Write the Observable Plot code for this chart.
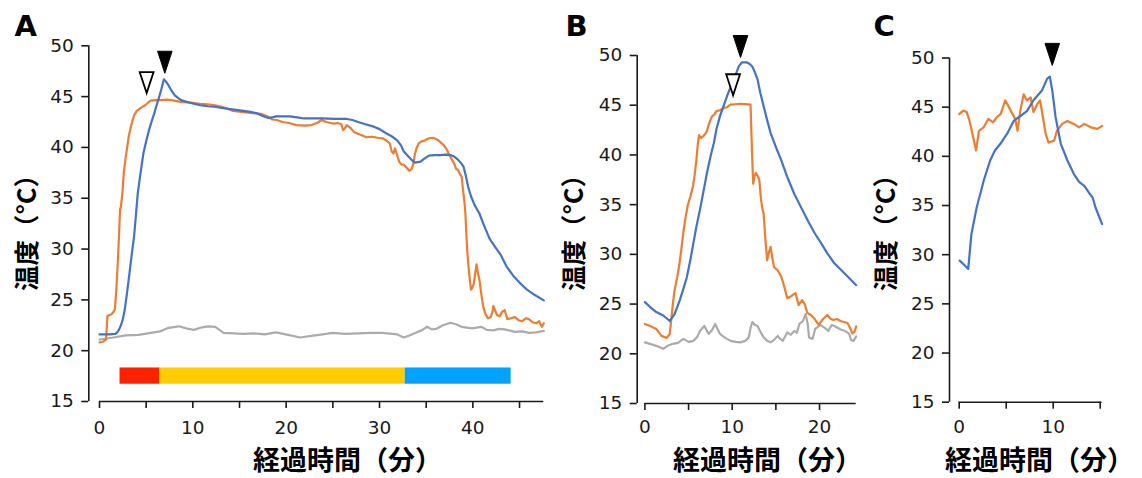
<!DOCTYPE html>
<html><head><meta charset="utf-8">
<script src="https://cdn.jsdelivr.net/npm/d3@7"></script>
<script src="https://cdn.jsdelivr.net/npm/@observablehq/plot@0.6"></script>
<style>
html,body{margin:0;padding:0;background:#fff;}
#chart{position:relative;width:1142px;height:478px;overflow:hidden;background:#fff;}
#chart svg{position:absolute;top:0;}
</style></head><body><div id="chart"></div>
<script>
// ---------- text ----------
const panelLetters = ["A", "B", "C"];
const yTitle = "温度（°C）";
const xTitle = "経過時間（分）";

// ---------- ticks / domains ----------
const yTicks = [15, 20, 25, 30, 35, 40, 45, 50];
const xTicksA = [0, 5, 10, 15, 20, 25, 30, 35, 40, 45];
const xTicksB = [0, 5, 10, 15, 20];
const xTicksC = [0, 5, 10, 15];
const xMaxA = 47.6, xMaxB = 24.2, xMaxC = 15.2;

// ---------- panel A series [minutes, °C] ----------
const aOrange = [[0,20.8],[0.4,20.9],[0.7,21.1],[0.85,23.4],[1.1,23.5],[1.3,23.6],[1.5,23.8],[1.65,24.1],[1.8,26.0],[1.95,28.5],[2.1,31.5],[2.2,33.9],[2.3,34.2],[2.45,35.5],[2.6,37.5],[2.8,39.0],[2.98,40.1],[3.15,41.2],[3.36,42.0],[3.55,42.7],[3.73,43.2],[4.0,43.6],[4.3,43.8],[4.6,44.0],[4.9,44.15],[5.2,44.4],[5.47,44.6],[6.0,44.65],[6.6,44.65],[7.2,44.7],[7.7,44.65],[8.3,44.55],[8.9,44.45],[9.8,44.4],[10.8,44.3],[11.6,44.25],[12.4,44.15],[13.1,44.0],[13.7,43.8],[14.3,43.6],[15.2,43.5],[16.2,43.4],[17.3,43.3],[17.9,43.1],[18.5,42.75],[19.0,42.7],[19.6,42.5],[20.3,42.4],[21.1,42.2],[22.0,42.15],[22.7,42.2],[23.3,42.4],[23.8,42.7],[24.3,42.5],[25.0,42.35],[25.5,42.4],[25.9,42.3],[26.1,41.7],[26.3,41.9],[26.5,42.2],[26.9,41.9],[27.3,41.5],[27.7,41.35],[28.1,41.2],[28.6,41.0],[29.2,41.05],[29.8,40.95],[30.3,40.9],[30.7,40.7],[31.1,40.4],[31.3,39.6],[31.5,39.4],[31.65,39.9],[31.8,39.5],[32.1,38.6],[32.4,38.3],[32.6,38.3],[32.9,38.0],[33.2,37.7],[33.45,37.9],[33.6,38.3],[33.8,39.4],[34.0,40.0],[34.2,40.4],[34.5,40.6],[34.9,40.7],[35.3,40.9],[35.7,40.95],[36.0,40.85],[36.3,40.7],[36.6,40.45],[36.9,40.2],[37.2,39.8],[37.4,39.4],[37.7,38.9],[38.0,38.4],[38.2,37.9],[38.4,37.8],[38.6,37.4],[38.8,37.1],[38.95,35.8],[39.1,34.6],[39.2,33.5],[39.3,31.5],[39.4,29.8],[39.5,28.6],[39.65,27.2],[39.8,26.0],[39.95,26.2],[40.1,26.6],[40.25,27.6],[40.4,28.5],[40.55,27.6],[40.7,27.0],[40.9,25.6],[41.1,24.4],[41.35,23.6],[41.6,23.2],[41.9,23.3],[42.1,23.8],[42.2,24.4],[42.4,23.9],[42.6,23.5],[42.9,23.4],[43.1,23.8],[43.4,24.0],[43.6,23.4],[43.7,23.1],[44.1,23.2],[44.5,23.3],[44.9,23.0],[45.3,22.9],[45.7,23.2],[46.0,23.1],[46.4,22.8],[46.8,22.7],[47.1,22.9],[47.4,22.35],[47.6,22.7]];
const aBlue = [[0,21.6],[1.0,21.6],[1.7,21.65],[1.9,21.8],[2.1,22.1],[2.3,22.5],[2.5,23.1],[2.7,24.0],[2.9,25.35],[3.1,26.8],[3.3,28.3],[3.5,29.8],[3.7,31.2],[3.9,33.3],[4.1,35.5],[4.4,37.5],[4.7,39.4],[5.0,40.6],[5.3,41.7],[5.6,42.6],[5.85,43.3],[6.1,44.1],[6.4,45.0],[6.65,45.8],[6.9,46.7],[7.1,46.5],[7.4,46.1],[7.7,45.6],[8.1,45.1],[8.5,44.8],[8.9,44.6],[9.5,44.45],[10.1,44.3],[10.8,44.15],[11.6,44.05],[12.3,44.0],[13.1,43.9],[14.2,43.75],[15.4,43.6],[16.2,43.5],[16.9,43.35],[17.5,43.1],[18.1,42.9],[18.5,42.95],[18.9,43.05],[19.6,43.05],[20.4,43.05],[21.2,42.95],[21.9,42.85],[22.8,42.85],[23.8,42.85],[25.2,42.8],[26.5,42.8],[27.1,42.7],[27.7,42.5],[28.4,42.3],[29.2,42.1],[30.0,41.8],[30.7,41.4],[31.3,41.1],[31.9,40.7],[32.3,40.2],[32.6,39.6],[33.0,39.2],[33.4,38.8],[33.8,38.5],[34.1,38.55],[34.4,38.6],[34.8,38.9],[35.3,39.2],[35.9,39.25],[36.5,39.25],[37.1,39.3],[37.6,39.25],[38.0,39.1],[38.4,38.8],[38.7,38.5],[39.0,38.1],[39.2,37.4],[39.5,36.1],[39.8,35.2],[40.2,34.3],[40.7,33.5],[41.2,32.3],[41.8,31.0],[42.4,30.2],[43.0,29.4],[43.6,28.3],[44.3,27.4],[45.0,26.7],[45.8,26.0],[46.6,25.5],[47.6,24.95]];
const aGray = [[0,21.1],[1.5,21.3],[2.8,21.5],[4.2,21.55],[5.5,21.75],[6.5,21.9],[7.4,22.25],[8.5,22.4],[9.3,22.2],[10.1,22.05],[11.0,22.3],[11.6,22.4],[12.4,22.35],[13.3,21.75],[14.4,21.7],[15.4,21.65],[16.5,21.7],[17.7,21.6],[18.9,21.8],[20.2,21.55],[21.5,21.3],[22.7,21.45],[23.9,21.6],[25.0,21.75],[26.3,21.65],[27.7,21.7],[29.0,21.75],[30.3,21.75],[31.9,21.6],[32.6,21.3],[33.2,21.5],[33.8,21.75],[34.5,22.0],[35.1,22.35],[35.6,22.1],[36.1,22.15],[36.8,22.5],[37.6,22.75],[38.2,22.6],[38.8,22.35],[39.9,22.2],[40.9,22.35],[41.5,22.05],[42.2,22.0],[42.8,22.15],[43.4,22.1],[44.5,21.85],[45.3,21.9],[46.0,21.75],[46.8,21.8],[47.6,21.95]];
const aPhaseStart = [2.2, 6.45, 32.75];
const aPhaseEnd = [6.45, 32.75, 44.1];
const aPhaseColor = ["#FF2200", "#FFCC00", "#00A2FF"];
const aPhaseLow = 16.7, aPhaseHigh = 18.3;
const aFilledMark = [[7.0, 47.3]];
const aOpenMark = [[5.05, 45.35]];

// ---------- panel B ----------
const bOrange = [[0,23.0],[0.6,22.8],[1.3,22.5],[1.9,21.8],[2.5,21.6],[2.85,22.0],[3.0,23.3],[3.2,25.0],[3.4,26.4],[3.7,27.7],[3.95,29.0],[4.2,30.7],[4.4,32.2],[4.6,33.4],[4.9,34.9],[5.2,35.8],[5.5,36.8],[5.7,38.0],[5.9,39.5],[6.05,41.0],[6.2,42.0],[6.45,41.7],[6.7,41.9],[6.9,42.1],[7.1,42.4],[7.3,43.0],[7.5,43.5],[7.7,43.9],[7.9,44.0],[8.2,44.4],[8.6,44.5],[9.0,44.7],[9.4,44.8],[9.8,45.05],[10.3,45.1],[10.9,45.15],[11.5,45.1],[12.1,45.05],[12.2,42.2],[12.3,39.5],[12.4,37.1],[12.55,37.8],[12.7,38.2],[12.9,37.9],[13.1,37.5],[13.3,35.5],[13.45,34.6],[13.6,34.1],[13.8,31.5],[14.0,29.4],[14.2,30.2],[14.4,30.75],[14.6,29.6],[14.8,28.7],[15.2,28.4],[15.6,27.8],[15.95,26.8],[16.3,25.6],[16.6,25.7],[16.9,25.9],[17.25,26.1],[17.6,24.9],[18.0,25.4],[18.3,25.0],[18.6,24.1],[19.0,23.9],[19.35,23.6],[19.9,22.9],[20.4,23.5],[20.9,23.9],[21.3,23.5],[21.6,23.4],[22.0,23.5],[22.4,23.3],[22.8,23.2],[23.2,23.1],[23.5,22.6],[23.75,22.05],[24.0,22.2],[24.2,22.75]];
const bBlue = [[0,25.2],[0.6,24.7],[1.3,24.2],[2.1,23.85],[2.85,23.3],[3.4,24.0],[4.0,25.4],[4.4,26.5],[4.8,27.7],[5.2,29.4],[5.55,31.1],[5.9,32.8],[6.3,34.45],[6.7,36.3],[7.1,38.15],[7.5,39.8],[7.9,41.2],[8.2,42.6],[8.6,43.9],[9.0,44.9],[9.4,45.9],[9.8,46.8],[10.2,47.6],[10.5,48.3],[10.75,48.9],[11.1,49.3],[11.7,49.3],[12.0,49.15],[12.3,48.9],[12.6,48.3],[12.9,47.6],[13.2,46.3],[13.6,44.9],[14.0,43.5],[14.4,42.2],[15.0,40.8],[15.6,39.5],[16.3,37.8],[17.1,36.1],[17.9,34.7],[18.65,33.4],[19.4,32.2],[20.2,31.1],[20.9,30.1],[21.7,29.1],[22.5,28.4],[23.3,27.7],[24.2,26.9]];
const bGray = [[0,21.15],[0.6,21.0],[1.3,20.8],[2.1,20.5],[2.6,20.8],[3.2,21.0],[3.8,21.1],[4.4,21.5],[5.0,21.2],[5.55,21.3],[6.0,21.7],[6.3,22.3],[6.8,22.8],[7.3,22.0],[7.7,22.4],[8.05,23.0],[8.6,22.0],[9.2,21.6],[9.8,21.3],[10.4,21.2],[10.9,21.15],[11.5,21.3],[11.9,21.65],[12.1,22.6],[12.3,23.2],[12.6,22.9],[12.9,22.8],[13.3,22.1],[13.6,21.65],[14.0,21.3],[14.4,21.15],[14.8,21.4],[15.2,21.8],[15.5,21.5],[15.8,21.3],[16.3,22.15],[16.7,21.9],[17.1,22.3],[17.4,22.1],[17.7,23.0],[18.1,23.3],[18.4,24.0],[18.65,23.0],[18.8,21.65],[19.2,21.5],[19.5,22.5],[19.8,22.7],[20.1,22.9],[20.6,22.6],[21.0,22.3],[21.4,22.9],[21.7,22.8],[22.3,22.5],[22.9,22.3],[23.4,22.0],[23.6,21.4],[23.9,21.3],[24.2,21.75]];
const bFilledMark = [[10.95, 49.8]];
const bOpenMark = [[10.1, 46.0]];

// ---------- panel C ----------
const cOrange = [[0,44.3],[0.43,44.65],[0.8,44.5],[1.1,43.6],[1.5,41.9],[1.8,40.6],[2.1,42.6],[2.6,42.95],[3.1,43.8],[3.6,43.45],[4.0,44.0],[4.4,44.3],[4.9,45.7],[5.4,44.8],[5.96,43.8],[6.2,42.6],[6.5,44.65],[6.86,46.3],[7.2,45.7],[7.6,46.0],[7.9,44.5],[8.3,45.3],[8.6,45.7],[8.9,44.0],[9.2,42.3],[9.5,41.4],[10.1,41.6],[10.4,42.6],[10.96,43.3],[11.5,43.6],[12.2,43.3],[12.75,42.95],[13.3,43.3],[14.0,42.95],[14.7,42.8],[15.2,43.1]];
const cBlue = [[0.05,29.4],[0.6,28.9],[0.96,28.55],[1.3,32.1],[1.86,34.8],[2.6,37.5],[3.3,39.6],[3.8,40.6],[4.4,41.3],[5.1,42.3],[5.8,43.6],[6.5,44.1],[7.2,44.6],[7.9,45.7],[8.8,46.7],[9.36,47.9],[9.64,48.1],[9.9,46.7],[10.25,44.0],[10.8,41.3],[11.5,39.6],[12.2,38.2],[12.75,37.4],[13.3,37.0],[13.8,36.3],[14.2,35.8],[14.5,34.8],[15.2,33.1]];
const cFilledMark = [[9.9, 49.25]];

// ---------- styling ----------
const ORANGE = "#ED7D31", BLUE = "#4472C4", GRAY = "#ABABAB", INK = "#1a1a1a";
const CJK = "'Noto Sans CJK JP', 'Noto Sans CJK SC', sans-serif";

const downTriangle = {
  draw(ctx, size) {
    const r = Math.sqrt(size / Math.PI);
    const h = 2 * r, w = 1.32 * r;
    ctx.moveTo(0, 0);
    ctx.lineTo(-w / 2, -h);
    ctx.lineTo(w / 2, -h);
    ctx.closePath();
  }
};

function series(data, color) {
  return Plot.line(data, {x: d => d[0], y: d => d[1], stroke: color, strokeWidth: 2.2, strokeLinejoin: "round"});
}

function panel(cfg) {
  const mL = cfg.axisX - cfg.left;
  const inset = cfg.zeroX - cfg.axisX;
  const mR = cfg.left + cfg.width - cfg.endX;
  const mT = cfg.topY;
  const mB = 478 - cfg.bottomY;
  const frameMidX = cfg.left + mL + (cfg.width - mL - mR) / 2;
  const frameMidY = (cfg.topY + cfg.bottomY) / 2;
  const marks = [
    ...(cfg.extra || []),
    ...cfg.lines,
    Plot.ruleX([0], {y1: yTicks[0], y2: yTicks[yTicks.length - 1], dx: -inset, stroke: INK, strokeWidth: 1.6}),
    Plot.ruleY([yTicks[0]], {x1: 0, x2: cfg.xMax, stroke: INK, strokeWidth: 1.6}),
    Plot.axisY({ticks: yTicks, tickSize: 7, tickPadding: 8, fontSize: 18.5, label: null, strokeWidth: 1.6}),
    Plot.axisX({ticks: cfg.xTicks, tickSize: 7, tickPadding: cfg.xPad, fontSize: 18.5, label: null, strokeWidth: 1.6,
      tickFormat: d => (d % 10 === 0 ? String(d) : "")}),
    Plot.text([cfg.letter], {frameAnchor: "top-left", text: d => d, textAnchor: "start", lineAnchor: "bottom",
      dx: cfg.letterX - (cfg.left + mL), dy: 35 - mT, fontSize: 29, fontWeight: "bold", fill: "#000"}),
    Plot.text([yTitle], {frameAnchor: "left", text: d => d, rotate: -90, textAnchor: "middle", lineAnchor: "middle",
      dx: cfg.yTitleX - cfg.axisX, dy: 226 - frameMidY, fontSize: 25.5, fontWeight: "bold", fontFamily: CJK, fill: "#000"}),
    Plot.text([xTitle], {frameAnchor: "bottom", text: d => d, textAnchor: "middle", lineAnchor: "middle",
      dx: cfg.xTitleX - frameMidX, dy: 461 - cfg.bottomY, fontSize: 27, fontWeight: "bold", fontFamily: CJK, fill: "#000"}),
  ];
  if (cfg.filled) marks.push(Plot.dot(cfg.filled, {x: d => d[0], y: d => d[1], symbol: downTriangle, r: 11, fill: "#000", stroke: "#000", strokeWidth: 1}));
  if (cfg.open) marks.push(Plot.dot(cfg.open, {x: d => d[0], y: d => d[1], symbol: downTriangle, r: 10.5, fill: "#fff", stroke: "#000", strokeWidth: 1.8}));
  const svg = Plot.plot({
    width: cfg.width, height: 478,
    marginLeft: mL, marginRight: mR, marginTop: mT, marginBottom: mB,
    x: {domain: [0, cfg.xMax], insetLeft: inset},
    y: {domain: [yTicks[0], yTicks[yTicks.length - 1]]},
    style: {fontFamily: "'DejaVu Sans', Verdana, sans-serif", color: INK, background: "transparent", overflow: "visible"},
    marks
  });
  svg.style.left = cfg.left + "px";
  document.getElementById("chart").appendChild(svg);
}

const aPhases = aPhaseStart.map((s, i) => ({s, e: aPhaseEnd[i], c: aPhaseColor[i]}));

panel({
  left: 0, width: 560, axisX: 88.3, zeroX: 99, endX: 543.3, topY: 45.3, bottomY: 401, xPad: 12,
  xMax: xMaxA, xTicks: xTicksA, letter: panelLetters[0], letterX: 14, yTitleX: 27, xTitleX: 347,
  extra: [Plot.rect(aPhases, {x1: "s", x2: "e", y1: aPhaseLow, y2: aPhaseHigh, fill: "c"})],
  lines: [series(aGray, GRAY), series(aOrange, ORANGE), series(aBlue, BLUE)],
  filled: aFilledMark, open: aOpenMark
});
panel({
  left: 560, width: 300, axisX: 636.7, zeroX: 644.4, endX: 855.7, topY: 55, bottomY: 403, xPad: 9,
  xMax: xMaxB, xTicks: xTicksB, letter: panelLetters[1], letterX: 565, yTitleX: 574, xTitleX: 767,
  lines: [series(bGray, GRAY), series(bOrange, ORANGE), series(bBlue, BLUE)],
  filled: bFilledMark, open: bOpenMark
});
panel({
  left: 860, width: 282, axisX: 949, zeroX: 958.7, endX: 1101.6, topY: 57.5, bottomY: 401.7, xPad: 10.5,
  xMax: xMaxC, xTicks: xTicksC, letter: panelLetters[2], letterX: 873, yTitleX: 886, xTitleX: 1039,
  lines: [series(cOrange, ORANGE), series(cBlue, BLUE)],
  filled: cFilledMark
});
</script></body></html>
